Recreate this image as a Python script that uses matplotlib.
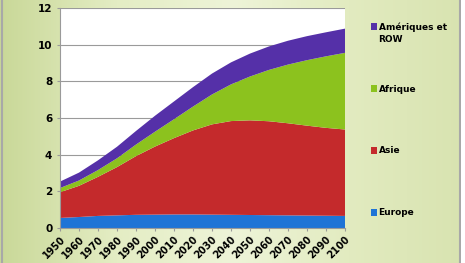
import numpy as np
import matplotlib
matplotlib.use('Agg')
import matplotlib.pyplot as plt
from matplotlib.colors import LinearSegmentedColormap
from matplotlib.patches import Rectangle

# ─────────────────────────────────────────
# DATA (milliards d'habitants)
# ─────────────────────────────────────────
years = [1950, 1960, 1970, 1980, 1990, 2000, 2010, 2020,
         2030, 2040, 2050, 2060, 2070, 2080, 2090, 2100]
europe = [0.55, 0.60, 0.66, 0.69, 0.72, 0.73, 0.74, 0.74,
          0.73, 0.72, 0.71, 0.70, 0.69, 0.68, 0.67, 0.66]
asie = [1.40, 1.70, 2.13, 2.63, 3.20, 3.71, 4.16, 4.58,
        4.92, 5.11, 5.16, 5.12, 5.02, 4.90, 4.79, 4.71]
afrique = [0.23, 0.29, 0.37, 0.48, 0.63, 0.81, 1.03, 1.30,
           1.63, 2.00, 2.39, 2.80, 3.20, 3.57, 3.90, 4.18]
ameriques_row = [0.35, 0.43, 0.53, 0.63, 0.74, 0.87, 0.97, 1.06,
                 1.14, 1.20, 1.25, 1.28, 1.30, 1.31, 1.31, 1.32]

labels = ['Europe', 'Asie', 'Afrique', 'Amériques et\nROW']
colors = ['#1f74d6', '#c42a2c', '#8cc21e', '#5530a8']
y_ticks = [0, 2, 4, 6, 8, 10, 12]

# ─────────────────────────────────────────
# FIGURE + BACKGROUND
# ─────────────────────────────────────────
fig = plt.figure(figsize=(4.65, 2.63), dpi=100)
fig.patch.set_facecolor('white')

bg = fig.add_axes([0, 0, 1, 1], zorder=-10)
bg_cmap = LinearSegmentedColormap.from_list(
    'bg', ['#c9d898', '#e4edc4', '#eef4d8', '#e2ebc0', '#d8e3b0'])
grad = np.linspace(0, 1, 256).reshape(1, -1)
bg.imshow(grad, cmap=bg_cmap, aspect='auto', extent=[0, 1, 0, 1])
bg.set_xlim(0, 1)
bg.set_ylim(0, 1)
bg.axis('off')
# gray frame around the slide
bg.add_patch(Rectangle((0.005, -0.01), 0.985, 1.02, fill=False,
                       edgecolor='#a8a8a8', linewidth=1.5))
bg.add_patch(Rectangle((0.992, 0), 0.01, 1, facecolor='white',
                       edgecolor='none'))

# ─────────────────────────────────────────
# STACKED AREAS
# ─────────────────────────────────────────
ax = fig.add_axes([0.129, 0.133, 0.613, 0.837])
ax.set_facecolor('white')
ax.stackplot(years, europe, asie, afrique, ameriques_row,
             colors=colors, linewidth=0, zorder=2)

ax.set_xlim(years[0], years[-1])
ax.set_ylim(0, 12)
ax.set_xticks(years)
ax.set_xticklabels([str(y) for y in years], rotation=45, ha='right',
                   rotation_mode='anchor', fontsize=7, fontweight='bold')
ax.set_yticks(y_ticks)
ax.set_yticklabels([str(v) for v in y_ticks], fontsize=7.5, fontweight='bold')
ax.yaxis.grid(True, color='#9a9a9a', linewidth=0.8, zorder=0)
ax.set_axisbelow(True)
for side in ['top', 'right']:
    ax.spines[side].set_visible(False)
for side in ['left', 'bottom']:
    ax.spines[side].set_color('#9a9a9a')
ax.tick_params(axis='x', length=2.5, color='#9a9a9a', pad=2)
ax.tick_params(axis='y', length=2.5, color='#9a9a9a', pad=3)

# ─────────────────────────────────────────
# LEGEND (top = last series)
# ─────────────────────────────────────────
leg_x = 0.797
leg_top = 0.901
leg_step = 0.2355
for i, (lab, col) in enumerate(zip(labels[::-1], colors[::-1])):
    yy = leg_top - i * leg_step
    fig.patches.append(Rectangle((leg_x, yy - 0.014), 0.013, 0.024,
                                 transform=fig.transFigure, figure=fig,
                                 facecolor=col, edgecolor='none'))
    fig.text(leg_x + 0.017, yy + 0.013, lab, fontsize=6.5, fontweight='bold',
             va='top', ha='left', linespacing=1.45)

fig.savefig('out.png', dpi=100)
